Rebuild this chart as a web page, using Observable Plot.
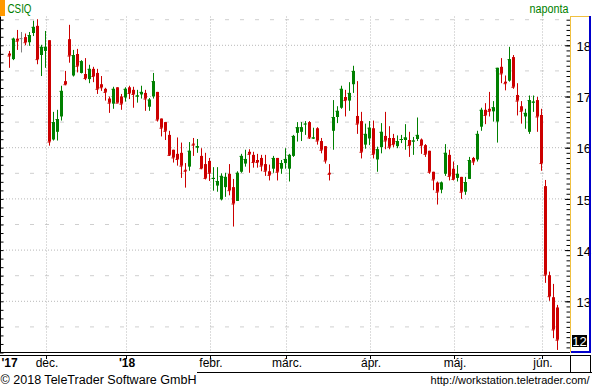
<!DOCTYPE html>
<html><head><meta charset="utf-8">
<script src="https://cdn.jsdelivr.net/npm/d3@7"></script>
<script src="https://cdn.jsdelivr.net/npm/@observablehq/plot@0.6"></script>
<style>
html,body{margin:0;padding:0;background:#fff;overflow:hidden}
#chart svg{display:block}
</style>
</head><body><div id="chart"></div>
<script>
const ticker = "CSIQ";
const interval = "naponta";
const copyright = "© 2018 TeleTrader Software GmbH";
const source = "http://workstation.teletrader.com/";

// daily OHLC, 17 Nov 2017 – 7 Jun 2018 (one entry per trading day)
const open = [17.84,17.73,18.13,18.14,18.16,18.06,18.24,18.38,17.81,17.89,
18.10,16.16,16.31,16.61,17.30,18.12,17.41,17.83,17.46,17.44,
17.34,17.54,17.46,17.24,17.15,16.96,16.86,17.18,17.00,16.98,
17.18,17.13,17.00,17.04,17.07,16.80,17.00,17.09,16.57,16.50,
16.25,15.96,15.88,15.90,15.57,15.63,16.08,16.00,15.84,15.68,
15.74,15.39,15.26,14.99,15.23,15.49,15.23,14.96,15.53,15.69,
15.92,15.86,15.76,15.80,15.68,15.54,15.59,15.80,15.59,15.70,
15.59,15.84,16.29,16.31,16.46,16.50,16.18,16.38,16.13,16.03,
15.51,16.33,16.60,16.78,16.99,16.92,17.24,16.62,16.52,16.06,
16.18,16.38,15.77,16.01,16.23,16.19,16.19,16.03,16.15,16.15,
16.15,16.12,16.17,16.16,16.05,15.94,15.53,15.32,15.18,15.49,
15.86,15.59,15.41,15.43,15.14,15.39,15.80,15.77,16.41,16.74,
16.76,16.71,16.51,17.58,17.29,17.31,17.77,17.03,16.81,16.61,
16.31,16.88,16.93,16.64,15.25,13.51,13.08,12.88];
const high = [17.89,18.15,18.30,18.26,18.23,18.26,18.48,18.51,18.01,18.28,
18.10,16.70,16.74,17.21,17.50,18.40,17.91,17.93,17.71,17.75,
17.62,17.58,17.54,17.40,17.17,17.00,17.19,17.18,17.05,17.18,
17.21,17.19,17.13,17.21,17.13,16.97,17.46,17.09,16.57,16.50,
16.33,15.96,16.20,16.10,15.70,16.11,16.19,16.17,15.99,15.90,
15.80,15.62,15.62,15.50,15.51,15.68,15.39,15.54,15.88,15.96,
15.97,15.92,15.88,15.86,15.86,15.67,15.84,15.80,15.76,15.99,
15.88,16.25,16.50,16.50,16.52,16.52,16.39,16.40,16.19,16.03,
15.68,16.93,16.81,17.21,17.13,17.28,17.60,17.30,16.70,16.47,
16.52,16.53,16.02,16.48,16.70,16.42,16.27,16.24,16.25,16.46,
16.31,16.21,16.59,16.18,16.07,15.94,15.53,15.34,15.34,16.07,
15.96,15.73,15.66,15.43,15.43,15.82,15.82,16.33,16.78,16.87,
17.09,16.91,17.56,17.75,17.41,17.97,17.81,17.26,16.91,16.76,
17.02,17.02,16.99,16.76,15.37,13.58,13.34,12.93];
const low = [17.56,17.71,17.91,17.86,18.00,17.99,18.18,17.63,17.40,17.56,
16.04,16.14,16.14,16.53,17.22,17.66,17.39,17.47,17.45,17.32,
17.26,17.28,17.05,17.11,16.92,16.68,16.76,16.88,16.74,16.90,
16.95,16.78,16.88,16.96,16.72,16.72,16.96,16.51,16.22,16.15,
15.84,15.71,15.65,15.41,15.22,15.55,15.84,15.90,15.58,15.38,
15.35,15.16,15.14,14.97,15.04,15.07,14.46,14.96,15.51,15.63,
15.51,15.61,15.61,15.54,15.45,15.36,15.51,15.36,15.49,15.59,
15.34,15.82,16.12,16.13,16.25,16.17,16.17,16.06,15.89,15.69,
15.36,15.96,16.48,16.76,16.61,16.72,17.07,16.27,15.79,15.98,
16.05,15.79,15.53,15.89,15.97,15.97,16.01,15.99,16.09,15.96,
15.82,15.86,16.13,15.88,15.82,15.49,15.17,14.89,15.11,15.45,
15.36,15.36,15.34,15.00,15.08,15.39,15.66,15.73,16.33,16.46,
16.61,16.51,16.10,17.26,17.12,17.29,17.15,16.63,16.47,16.37,
16.27,16.70,16.31,15.55,13.36,13.01,12.28,12.05];
const close = [17.80,18.13,18.09,18.14,18.06,18.20,18.36,17.73,17.97,17.97,
16.12,16.50,16.56,17.11,17.24,17.80,17.81,17.60,17.69,17.36,
17.54,17.40,17.15,17.18,17.09,16.88,17.15,16.88,16.86,17.15,
17.07,17.05,17.02,17.09,16.96,16.94,17.30,16.55,16.39,16.33,
15.86,15.81,15.78,15.65,15.55,15.94,16.06,16.03,15.60,15.41,
15.51,15.41,15.35,15.45,15.43,15.17,14.91,15.51,15.84,15.78,
15.88,15.72,15.72,15.65,15.55,15.47,15.80,15.53,15.70,15.78,
15.86,16.23,16.40,16.40,16.47,16.20,16.20,16.14,15.96,15.75,
15.49,16.60,16.72,17.15,16.93,17.07,17.50,16.47,15.92,16.27,
16.39,15.88,15.97,16.31,16.14,16.02,16.07,16.13,16.17,16.20,
16.05,16.14,16.25,16.05,15.88,15.53,15.38,15.14,15.32,15.90,
15.45,15.39,15.49,15.14,15.33,15.76,15.73,16.27,16.74,16.64,
16.72,16.79,17.56,17.45,17.26,17.73,17.19,16.92,16.72,16.68,
16.93,16.90,16.61,15.70,13.52,13.10,12.45,12.25];

// index of the first trading day of each month, and its label
const monthStart = [9, 29, 50, 69, 90, 111, 133];
const monthLabels = ["dec.", "", "febr.", "márc.", "ápr.", "máj.", "jún."];
const yearStart = [29];
const yearLabels = ["'18"];
const firstYearLabel = "'17";
const priceLabels = [13, 14, 15, 16, 17, 18];

const candles = open.map((o, i) => ({
  i, open: o, high: high[i], low: low[i], close: close[i],
  dir: close[i] > o ? "up" : close[i] < o ? "down" : "flat"
}));

const xDom = [-2.375, 140.125];
const yDom = [12, 18.5625];
const halfLevels = d3.range(12.5, 18.6, 1);
const intLevels = d3.range(13, 19);
const leftTicks = d3.range(0, 40).map(k => 12 + k / 6);
const rightTicks = d3.range(1, 66).map(k => 12 + k / 10);

const green = "#008000", red = "#cc0000";
const font = "'Liberation Sans', Arial, sans-serif";

const plot = Plot.plot({
  width: 592, height: 390,
  marginLeft: 0, marginRight: 22, marginTop: 16.5, marginBottom: 37.5,
  x: {type: "linear", domain: xDom, axis: null},
  y: {type: "linear", domain: yDom, axis: null},
  color: {domain: ["up", "down", "flat"], range: [green, red, "#808080"]},
  style: {fontFamily: font, fontSize: "12px", background: "#fff", overflow: "visible"},
  marks: [
    Plot.ruleY(halfLevels, {stroke: "#cfcfcf", strokeDasharray: "4,11", dy: -0.5}),
    Plot.ruleY(intLevels, {stroke: "#b8b8b8", strokeDasharray: "1,2", dy: -0.5}),
    Plot.ruleX(monthStart, {x: d => d + 0.25, stroke: "#b8b8b8", strokeDasharray: "1,2", dx: -0.5}),
    // wicks
    Plot.ruleX(candles, {x: "i", y1: "low", y2: "high", stroke: "dir", strokeWidth: 1, dx: -0.5}),
    // bodies (3 px wide)
    Plot.ruleX(candles, {x: "i", y1: "open", y2: "close", stroke: "dir", strokeWidth: 3, dx: -0.5}),
    Plot.ruleY(candles, {y: "close", x1: d => d.i - 0.375, x2: d => d.i + 0.375, stroke: "dir", dx: -0.5}),
    // left border and ticks
    Plot.ruleX([xDom[0]], {stroke: "#000"}),
    Plot.ruleY(leftTicks, {x1: xDom[0], x2: xDom[0] + 0.875, stroke: "#000"}),
    // right axis
    Plot.ruleY(rightTicks, {x1: xDom[1] - 0.875, x2: xDom[1], stroke: "#000"}),
    Plot.ruleY(intLevels, {x1: xDom[1] - 1.25, x2: xDom[1], stroke: "#000"}),
    Plot.ruleX([xDom[1]], {stroke: "#f0c040"}),
    Plot.text(priceLabels, {y: d => d, frameAnchor: "right", dx: 6, dy: 1, lineAnchor: "middle", textAnchor: "start", text: d => String(d), fontSize: 13, fill: "#000"}),
    // bottom border
    Plot.ruleY([yDom[0]], {stroke: "#000", dy: -0.5}),
    // x labels
    Plot.text(monthStart, {x: d => d + 0.25, frameAnchor: "bottom", dy: 10.5, lineAnchor: "middle", text: (d, i) => monthLabels[i], fontSize: 12, fill: "#000"}),
    Plot.text(yearStart, {x: d => d + 0.25, frameAnchor: "bottom", dy: 10.5, lineAnchor: "middle", text: (d, i) => yearLabels[i], fontSize: 12, fontWeight: "bold", fill: "#000"}),
    Plot.text([firstYearLabel], {frameAnchor: "bottom-left", dx: 1, dy: 10.5, lineAnchor: "middle", textAnchor: "start", fontSize: 12, fontWeight: "bold", fill: "#000"}),
    // header and footer
    Plot.text([ticker], {frameAnchor: "top-left", dx: 7, dy: -8.2, lineAnchor: "middle", textAnchor: "start", fontSize: 12, fill: green}),
    Plot.text([interval], {frameAnchor: "top-right", dx: -2, dy: -8.2, lineAnchor: "middle", textAnchor: "end", fontSize: 12, fill: green}),
    Plot.text([copyright], {frameAnchor: "bottom-left", dx: 0, dy: 27.5, lineAnchor: "middle", textAnchor: "start", fontSize: 12, fill: "#000"}),
    Plot.text([source], {frameAnchor: "bottom-right", dx: 19, dy: 27.5, lineAnchor: "middle", textAnchor: "end", fontSize: 11, fill: "#000"})
  ]
});

document.getElementById("chart").appendChild(plot);

// decorations using the plot's scales
const sx = plot.scale("x"), sy = plot.scale("y");
const svg = d3.select(plot);
const g = svg.append("g").attr("shape-rendering", "crispEdges");
g.append("rect").attr("x", 0).attr("y", 0).attr("width", 5).attr("height", 16).attr("fill", "#ff9900");
g.append("line").attr("x1", 570).attr("x2", 590).attr("y1", 16.5).attr("y2", 16.5).attr("stroke", "#f0c040");
g.append("rect").attr("x", 589).attr("y", 16).attr("width", 2).attr("height", 337).attr("fill", "#0000cc");
g.append("rect").attr("x", 571).attr("y", 351).attr("width", 20).attr("height", 2).attr("fill", "#0000cc");
g.append("line").attr("x1", 0).attr("x2", 591).attr("y1", 355.5).attr("y2", 355.5).attr("stroke", "#000");
g.append("line").attr("x1", 197).attr("x2", 592).attr("y1", 372.5).attr("y2", 372.5).attr("stroke", "#000");
g.append("line").attr("x1", 570.5).attr("x2", 570.5).attr("y1", 355.5).attr("y2", 372.5).attr("stroke", "#000");
g.append("line").attr("x1", 590.5).attr("x2", 590.5).attr("y1", 355.5).attr("y2", 372.5).attr("stroke", "#000");
monthStart.forEach(m => {
  const px = Math.floor(sx.apply(m + 0.25)) + 0.5;
  g.append("line").attr("x1", px).attr("x2", px).attr("y1", 356).attr("y2", 359).attr("stroke", "#000");
});
const last = close[close.length - 1];
const ly = sy.apply(last) + 1.5;
g.append("rect").attr("x", 572).attr("y", ly - 6).attr("width", 15).attr("height", 12).attr("fill", "#000");
g.append("text").attr("x", 579.5).attr("y", ly).attr("dy", "0.36em").attr("text-anchor", "middle")
  .attr("fill", "#fff").attr("font-size", 13).attr("font-family", font)
  .text(String(Math.trunc(last)));

// fit header/footer texts to the reference widths
const fit = {[ticker]: 24, [interval]: 39, [copyright]: 196};
svg.selectAll("text").each(function() {
  const t = this.textContent;
  if (fit[t]) d3.select(this).attr("textLength", fit[t]).attr("lengthAdjust", "spacingAndGlyphs");
});
</script>
</body></html>
